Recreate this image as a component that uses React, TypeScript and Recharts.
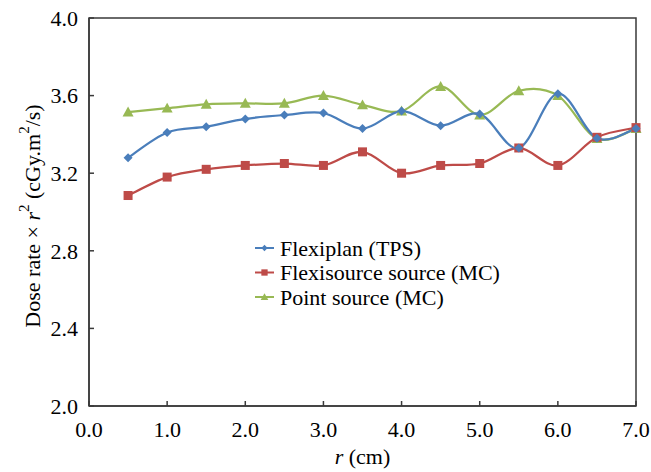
import {
  LineChart,
  Line,
  XAxis,
  YAxis,
  ReferenceArea,
} from 'recharts'

const rValues = [0.5, 1.0, 1.5, 2.0, 2.5, 3.0, 3.5, 4.0, 4.5, 5.0, 5.5, 6.0, 6.5, 7.0]
const flexiplanTps = [3.28, 3.41, 3.44, 3.48, 3.5, 3.51, 3.43, 3.52, 3.445, 3.505, 3.33, 3.61, 3.38, 3.43]
const flexisourceMc = [3.085, 3.18, 3.22, 3.24, 3.25, 3.24, 3.31, 3.2, 3.24, 3.25, 3.33, 3.24, 3.385, 3.435]
const pointSourceMc = [3.515, 3.535, 3.555, 3.56, 3.56, 3.6, 3.552, 3.52, 3.647, 3.5, 3.625, 3.6, 3.378, 3.43]
const xTicks = [0, 1, 2, 3, 4, 5, 6, 7]
const yTicks = [2.0, 2.4, 2.8, 3.2, 3.6, 4.0]

const data = rValues.map((r, i) => ({
  r,
  tps: flexiplanTps[i],
  mc: flexisourceMc[i],
  point: pointSourceMc[i],
}))

const FONT = "'Liberation Serif', 'Times New Roman', Times, serif"
const FS = 22
const BLUE = '#4a7ebb'
const RED = '#be4b48'
const GREEN = '#98b954'
const AXIS = '#3a3a3a'

// smoothed line like a spreadsheet's "smoothed line" (Catmull-Rom, tension 1/6)
function smoothCurve(context: any) {
  let pts: number[][] = []
  return {
    areaStart() {},
    areaEnd() {},
    lineStart() {
      pts = []
    },
    point(x: number, y: number) {
      pts.push([+x, +y])
    },
    lineEnd() {
      const n = pts.length
      if (!n) return
      context.moveTo(pts[0][0], pts[0][1])
      for (let i = 0; i < n - 1; i++) {
        const p0 = pts[i - 1] || pts[i]
        const p1 = pts[i]
        const p2 = pts[i + 1]
        const p3 = pts[i + 2] || p2
        context.bezierCurveTo(
          p1[0] + (p2[0] - p0[0]) / 6,
          p1[1] + (p2[1] - p0[1]) / 6,
          p2[0] - (p3[0] - p1[0]) / 6,
          p2[1] - (p3[1] - p1[1]) / 6,
          p2[0],
          p2[1],
        )
      }
    },
  }
}

function Diamond({ cx, cy, color = BLUE }: any) {
  const s = 4.5
  return <path d={`M${cx},${cy - s}L${cx + s},${cy}L${cx},${cy + s}L${cx - s},${cy}Z`} fill={color} />
}

function Square({ cx, cy, color = RED }: any) {
  const s = 4.5
  return <rect x={cx - s} y={cy - s} width={s * 2} height={s * 2} fill={color} />
}

function Triangle({ cx, cy, color = GREEN }: any) {
  const s = 5.5
  return <path d={`M${cx},${cy - s}L${cx + s},${cy + s * 0.8}L${cx - s},${cy + s * 0.8}Z`} fill={color} />
}

const legendItems = [
  { label: 'Flexiplan (TPS)', color: BLUE, Marker: Diamond },
  { label: 'Flexisource source (MC)', color: RED, Marker: Square },
  { label: 'Point source (MC)', color: GREEN, Marker: Triangle },
]

function LegendBox() {
  return (
    <svg width={270} height={80} style={{ position: 'absolute', left: 255, top: 236 }}>
      {legendItems.map((item, i) => {
        const y = 12 + i * 24.5
        const M = item.Marker
        return (
          <g key={item.label}>
            <line x1={0} x2={19} y1={y} y2={y} stroke={item.color} strokeWidth={2} />
            <g transform={`translate(9.5,${y}) scale(0.7) translate(-9.5,${-y})`}>
              <M cx={9.5} cy={y} color={item.color} />
            </g>
            <text x={25} y={y} dy="0.35em" style={{ fontFamily: FONT }} fontSize={FS} fill="#000">
              {item.label}
            </text>
          </g>
        )
      })}
    </svg>
  )
}

function YTitle() {
  const cy = 216
  const cx = 32
  return (
    <text
      x={cx}
      y={cy}
      transform={`rotate(-90, ${cx}, ${cy})`}
      textAnchor="middle"
      dominantBaseline="central"
      style={{ fontFamily: FONT }}
      fontSize={FS}
      fill="#000"
    >
      <tspan>Dose rate × </tspan>
      <tspan fontStyle="italic">r</tspan>
      <tspan fontSize={15} dy={-8}>2</tspan>
      <tspan dy={8}> (cGy.m</tspan>
      <tspan fontSize={15} dy={-8}>2</tspan>
      <tspan dy={8}>/s)</tspan>
    </text>
  )
}

function XTitle({ viewBox }: any) {
  const cx = viewBox.x + viewBox.width / 2
  return (
    <text x={cx} y={456} textAnchor="middle" dominantBaseline="central" style={{ fontFamily: FONT }} fontSize={FS} fill="#000">
      <tspan fontStyle="italic">r</tspan>
      <tspan> (cm)</tspan>
    </text>
  )
}

export default function App() {
  return (
    <div style={{ position: 'absolute', left: 0, top: 0, width: 651, height: 472, background: '#fff', fontFamily: FONT }}>
      <LineChart width={651} height={472} data={data} margin={{ top: 18, right: 15, left: 0, bottom: 0 }}>
        <XAxis
          dataKey="r"
          type="number"
          domain={[0, 7]}
          ticks={xTicks}
          tickFormatter={(v) => Number(v).toFixed(1)}
          height={66}
          tickSize={-5}
          tickMargin={20}
          axisLine={{ stroke: AXIS, strokeWidth: 1.5 }}
          tickLine={{ stroke: AXIS, strokeWidth: 1.5 }}
          tick={{ fill: '#000', fontSize: FS, style: { fontFamily: FONT } }}
          label={{ content: XTitle }}
        />
        <YAxis
          type="number"
          domain={[2, 4]}
          ticks={yTicks}
          tickFormatter={(v) => Number(v).toFixed(1)}
          width={89}
          tickSize={-5}
          tickMargin={16}
          axisLine={{ stroke: AXIS, strokeWidth: 1.5 }}
          tickLine={{ stroke: AXIS, strokeWidth: 1.5 }}
          tick={{ fill: '#000', fontSize: FS, style: { fontFamily: FONT } }}
          label={{ content: YTitle }}
        />
        <ReferenceArea x1={0} x2={7} y1={2} y2={4} fill="none" stroke={AXIS} strokeWidth={1.5} ifOverflow="visible" />
        <Line
          dataKey="point"
          type={smoothCurve as any}
          stroke={GREEN}
          strokeWidth={2.25}
          dot={<Triangle />}
          activeDot={false}
          isAnimationActive={false}
        />
        <Line
          dataKey="mc"
          type={smoothCurve as any}
          stroke={RED}
          strokeWidth={2.25}
          dot={<Square />}
          activeDot={false}
          isAnimationActive={false}
        />
        <Line
          dataKey="tps"
          type={smoothCurve as any}
          stroke={BLUE}
          strokeWidth={2.25}
          dot={<Diamond />}
          activeDot={false}
          isAnimationActive={false}
        />
      </LineChart>
      <LegendBox />
    </div>
  )
}
